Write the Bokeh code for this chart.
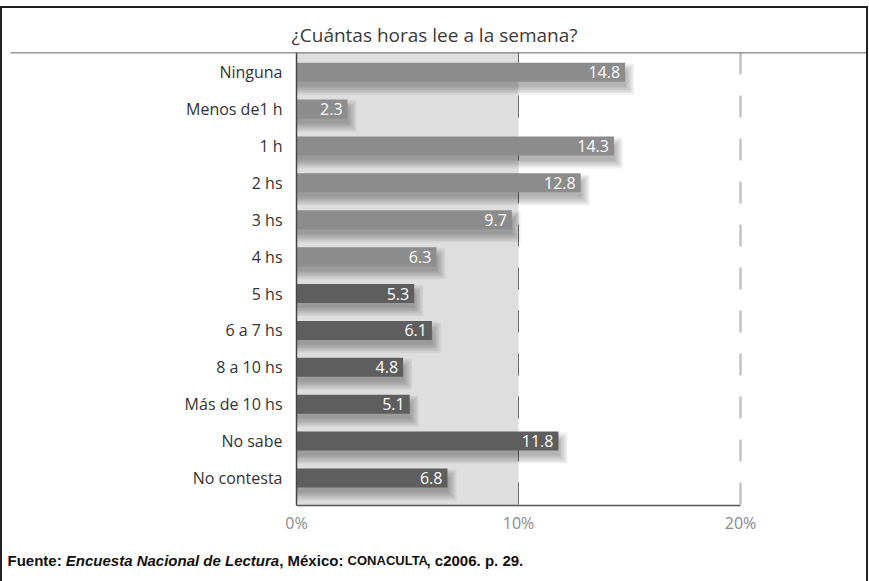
from bokeh.plotting import figure
from bokeh.models import Range1d, FixedTicker, ColumnDataSource
from bokeh.layouts import column
from bokeh.core.properties import value
from bokeh.embed import file_html
from bokeh.resources import INLINE

# ---- data ----
categories = ["Ninguna", "Menos de1 h", "1 h", "2 hs", "3 hs", "4 hs",
              "5 hs", "6 a 7 hs", "8 a 10 hs", "Más de 10 hs", "No sabe", "No contesta"]
values = [14.8, 2.3, 14.3, 12.8, 9.7, 6.3, 5.3, 6.1, 4.8, 5.1, 11.8, 6.8]
groups = ["a", "a", "a", "a", "a", "a", "b", "b", "b", "b", "b", "b"]
tick_values = [0, 10, 20]
tick_labels = ["0%", "10%", "20%"]
title_text = "¿Cuántas horas lee a la semana?"
footer_parts = ["Fuente: ", "Encuesta Nacional de Lectura", ", México: ", "CONACULTA", ", c2006. p. 29."]

# ---- styles ----
COL = {"a": "#8c8c8c", "b": "#5e5e5e"}
PXX = 1 / 22.2   # data units per px (x)
PXY = 1 / 36.9   # data units per px (y)
BAR_H = 19 * PXY

n = len(categories)
ypos = [n - 1 - i for i in range(n)]
ytop = (n - 1) + 19.7 * PXY
ybot = -27.5 * PXY
W = 864
xmin = -294 * PXX
xmax = xmin + W * PXX

p = figure(width=W, height=532, output_backend="svg", toolbar_location=None,
           x_range=Range1d(xmin, xmax), y_range=Range1d(ybot, ytop),
           y_axis_location=None, min_border_left=0, min_border_right=0,
           min_border_top=44, min_border_bottom=35, title=title_text)
p.outline_line_color = None
p.grid.visible = False
p.background_fill_color = "white"

p.title.align = "center"
p.title.offset = 6
p.title.text_font = "Open Sans"
p.title.text_font_style = "normal"
p.title.text_font_size = "19px"
p.title.text_color = "#3a3a3a"
p.title.standoff = 9

# shaded region 0-10 %
p.quad(left=[0], right=[tick_values[1]], bottom=[ybot], top=[ytop],
       fill_color="#dedede", line_color=None)

# dashed gridlines
p.segment(x0=[tick_values[1]], x1=[tick_values[1]], y0=[ytop], y1=[ybot],
          line_color="#6c6c6c", line_width=1, line_dash="22 21")
p.segment(x0=[tick_values[2]], x1=[tick_values[2]], y0=[ytop], y1=[ybot],
          line_color="#c4c4c4", line_width=2.5, line_dash="22 21")

# title rule
p.segment(x0=[xmin + 8 * PXX], x1=[xmax], y0=[ytop], y1=[ytop], line_color="#333", line_width=1.5)

src = ColumnDataSource(dict(y=ypos, v=values, cat=categories,
                            color=[COL[g] for g in groups],
                            lab=[f"{v:.1f}" for v in values]))

# soft shadows (stacked translucent layers)
for k in range(6):
    grow = k * 1.6
    p.hbar(y=[y - (7 * PXY) for y in ypos], left=0,
           right=[v + (1 + grow) * PXX for v in values],
           height=(15 + 2 * grow) * PXY,
           fill_color="black", fill_alpha=0.055, line_color=None)

# bars
p.hbar(y="y", left=0, right="v", height=BAR_H, fill_color="color",
       line_color=None, source=src)

# value labels
p.text(x="v", y="y", text="lab", source=src, x_offset=-5, y_offset=0,
       text_align="right", text_baseline="middle", text_color="white",
       text_font=value("Open Sans"), text_font_size="16px")

# category labels
p.text(x=0, y="y", text="cat", source=src, x_offset=-14,
       text_align="right", text_baseline="middle", text_color="#333",
       text_font=value("Open Sans"), text_font_size="16px")

# 0 % axis line
p.segment(x0=[0], x1=[0], y0=[ybot], y1=[ytop], line_color="#444", line_width=1.5)

# x axis
ax = p.xaxis[0]
ax.bounds = (tick_values[0], tick_values[-1])
ax.ticker = FixedTicker(ticks=tick_values)
ax.major_label_overrides = {t: l for t, l in zip(tick_values, tick_labels)}
ax.major_tick_line_color = None
ax.minor_tick_line_color = None
ax.axis_line_color = "#555"
ax.axis_line_width = 1.5
ax.major_label_text_font = "Open Sans"
ax.major_label_text_font_size = "16px"
ax.major_label_text_color = "#8a8a8a"
ax.major_label_standoff = 0

# ---- footer figure (mixed styles) ----
FH = 41
f = figure(width=W, height=FH, output_backend="svg", toolbar_location=None,
           x_range=Range1d(0, W), y_range=Range1d(0, FH),
           x_axis_location=None, y_axis_location=None,
           min_border=0, outline_line_color=None)
f.grid.visible = False
# (style, size, left offset in px; offsets follow Liberation Sans Bold advance widths)
foot_style = [("bold", "15px", 5), ("bold italic", "15px", 63.3), ("bold", "15px", 276.7),
              ("bold", "13px", 345.1), ("bold", "15px", 424.0)]
for txt, (style, size, xo) in zip(footer_parts, foot_style):
    f.text(x=[xo], y=[FH - 20], text=[txt], text_align="left", text_baseline="middle",
           text_font=value("Liberation Sans"), text_font_style=style,
           text_font_size=size, text_color="#111")

layout = column(p, f, spacing=0)
layout.styles = {"border-top": "2px solid #222", "border-left": "2px solid #222",
                 "border-right": "2px solid #222", "margin-top": "6px"}

open("out.html", "w").write(file_html(layout, INLINE))
